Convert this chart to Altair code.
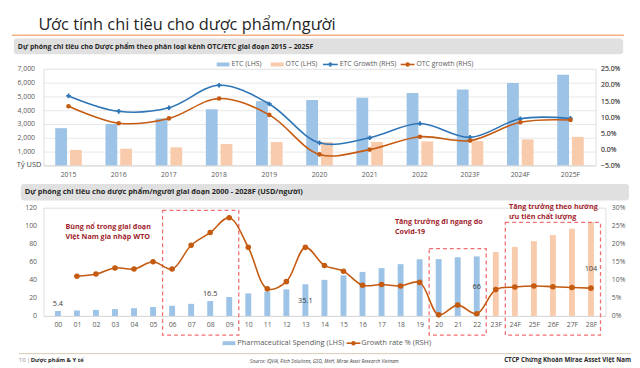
import json
import altair as alt
import pandas as pd

FONT = "Open Sans"

# ---------------- top chart data ----------------
years = ["2015", "2016", "2017", "2018", "2019", "2020", "2021", "2022", "2023F", "2024F", "2025F"]
etc_spend = [2700, 3000, 3400, 4070, 4660, 4740, 4900, 5260, 5500, 5980, 6570]
otc_spend = [1120, 1210, 1310, 1550, 1690, 1690, 1700, 1740, 1760, 1880, 2070]
etc_growth = [16.6, 11.8, 12.9, 19.9, 14.1, 2.0, 3.6, 8.0, 3.7, 9.5, 9.6]
otc_growth = [13.4, 8.1, 9.6, 15.8, 10.7, -1.6, -0.1, 3.9, 2.7, 8.4, 9.1]
top_series = ["ETC (LHS)", "OTC (LHS)", "ETC Growth (RHS)", "OTC growth (RHS)"]
top_colors = ["#9dc3e6", "#f8cbad", "#2e75b6", "#c55a11"]

# ---------------- bottom chart data ----------------
periods = ["00", "01", "02", "03", "04", "05", "06", "07", "08", "09", "10", "11", "12", "13", "14",
           "15", "16", "17", "18", "19", "20", "21", "22", "23F", "24F", "25F", "26F", "27F", "28F"]
spending = [5.4, 6.0, 6.7, 7.6, 8.6, 9.9, 11.2, 13.4, 16.5, 21.0, 25.0, 26.9, 29.5, 35.1, 40.0,
            45.0, 48.8, 53.0, 57.4, 62.8, 63.0, 65.0, 66.0, 70.8, 76.5, 82.9, 89.6, 96.7, 104.0]
growth = [None, 11.0, 11.6, 13.3, 13.0, 15.0, 13.0, 19.6, 23.1, 27.2, 19.0, 7.5, 9.5, 19.0, 14.0,
          12.4, 8.5, 8.7, 8.3, 9.3, 0.3, 3.0, 0.6, 7.3, 8.0, 8.3, 8.1, 7.9, 7.7]
n_forecast = 6
bottom_series = ["Pharmaceutical Spending (LHS)", "Growth rate % (RSH)"]
bottom_colors = ["#9dc3e6", "#f8cbad", "#c55a11"]

# value labels shown on the bottom chart (bar index, label height on LHS scale)
label_idx = [0, 8, 13, 22, 28]
label_y = [13.1, 24.0, 16.7, 32.4, 51.6]

# dashed highlight boxes (index range, top on LHS scale)
box_from = [5.5, 19.5, 23.5]
box_to = [9.5, 22.5, 28.5]
box_top = [117.1, 74.5, 103.6]
box_bottom = -21.3

note_text = ["Bùng nổ trong giai đoạn", "Việt Nam gia nhập WTO",
             "Tăng trưởng đi ngang do", "Covid-19",
             "Tăng trưởng theo hướng", "ưu tiên chất lượng"]
note_x = [0.4, 0.4, 17.7, 17.7, 23.7, 23.7]
note_y = [99.0, 88.0, 104.4, 93.5, 120.8, 109.9]

slide_title = "Ước tính chi tiêu cho dược phẩm/người"
top_header = "Dự phóng chi tiêu cho Dược phẩm theo phân loại kênh OTC/ETC giai đoạn 2015 – 2025F"
bottom_header = "Dự phóng chi tiêu cho dược phẩm/người giai đoạn 2000 - 2028F (USD/người)"
unit_label = "Tỷ USD"
footer_page = "10 |"
footer_section = "Dược phẩm & Y tế"
footer_source = "Source: IQVIA, Fitch Solutions, GSO, MoH, Mirae Asset Research Vietnam"
footer_company = "CTCP Chứng Khoán Mirae Asset Việt Nam"

LABEL = "#595959"
ONE = pd.DataFrame({"k": [0]})


# ---------------- decoration helpers ----------------
def txt(s, x, y, size, color="#262626", weight="normal", align="left", baseline="middle", style="normal"):
    return alt.Chart(pd.DataFrame({"t": [s]})).mark_text(
        align=align, baseline=baseline, fontSize=size, fontWeight=weight, fontStyle=style, color=color
    ).encode(text="t:N", x=alt.value(x), y=alt.value(y))


def hline(x1, x2, y, color, width=1.0):
    return alt.Chart(ONE).mark_rule(color=color, strokeWidth=width).encode(
        x=alt.value(x1), x2=alt.value(x2), y=alt.value(y))


def box(x1, x2, y1, y2, color, radius=0):
    return alt.Chart(ONE).mark_rect(color=color, cornerRadius=radius).encode(
        x=alt.value(x1), x2=alt.value(x2), y=alt.value(y1), y2=alt.value(y2))


def dot(x, y, color, shape="circle", size=20):
    return alt.Chart(ONE).mark_point(filled=True, opacity=1, shape=shape, size=size, color=color).encode(
        x=alt.value(x), y=alt.value(y))


# ---------------- top chart ----------------
bar_df = pd.DataFrame({
    "year": years * 2,
    "series": [top_series[0]] * len(years) + [top_series[1]] * len(years),
    "value": etc_spend + otc_spend,
})
gr_df = pd.DataFrame({
    "year": years * 2,
    "series": [top_series[2]] * len(years) + [top_series[3]] * len(years),
    "g": etc_growth + otc_growth,
})

x_top_scale = alt.Scale(domain=years, paddingInner=0.412, paddingOuter=0.206)
x_top_axis = alt.Axis(title=None, labelAngle=0, labelFontSize=7, labelColor=LABEL, ticks=False,
                      domainColor="#d9d9d9", labelPadding=5, grid=False)
color_top = alt.Scale(domain=top_series, range=top_colors)

top_bars = alt.Chart(bar_df).mark_bar().encode(
    x=alt.X("year:N", scale=x_top_scale, axis=x_top_axis),
    xOffset=alt.XOffset("series:N", scale=alt.Scale(domain=top_series[:2], paddingInner=0.2, paddingOuter=0.1)),
    y=alt.Y("value:Q", scale=alt.Scale(domain=[0, 7000], nice=False),
            axis=alt.Axis(orient="left", title=None, values=list(range(0, 7001, 1000)),
                          labelExpr="datum.value == 0 ? '' : format(datum.value, ',')",
                          grid=True, gridColor="#e8e8e8", domain=False, ticks=False,
                          labelFontSize=7, labelColor=LABEL, labelPadding=9)),
    color=alt.Color("series:N", scale=color_top, legend=None),
)

right_top_axis = alt.Axis(orient="right", title=None, values=list(range(-5, 26, 5)),
                          labelExpr="format(datum.value, '.1f') + '%'", grid=False, domain=False,
                          ticks=False, labelFontSize=7, labelColor=LABEL, labelPadding=5)


def growth_layers(name, shape, size, axis):
    base = alt.Chart(gr_df[gr_df.series == name]).encode(
        x=alt.X("year:N", scale=x_top_scale, axis=x_top_axis),
        y=alt.Y("g:Q", scale=alt.Scale(domain=[-5, 25], nice=False), axis=axis),
        color=alt.Color("series:N", scale=color_top, legend=None),
    )
    return [base.mark_line(interpolate="catmull-rom", strokeWidth=1.6),
            base.mark_point(filled=True, opacity=1, shape=shape, size=size)]


top_decor = [
    txt(slide_title, -5, -40, 16.6, color="#1f1f1f", baseline="alphabetic"),
    hline(-32, 590, -34.3, "#f4b183", 1.5),
    box(-30, 589, -31, -15, "#e0e0e0", 3),
    txt(top_header, -26, -22.5, 7, weight="bold"),
    box(176, 189, -6.5, -2.5, top_colors[0]),
    txt(top_series[0], 191, -4.5, 7, color=LABEL),
    box(231, 244, -6.5, -2.5, top_colors[1]),
    txt(top_series[1], 246, -4.5, 7, color=LABEL),
    hline(284, 299, -4.5, top_colors[2], 1.6),
    dot(291.5, -4.5, top_colors[2], "cross", 20),
    txt(top_series[2], 301, -4.5, 7, color=LABEL),
    hline(363, 377, -4.5, top_colors[3], 1.6),
    dot(370, -4.5, top_colors[3], "circle", 20),
    txt(top_series[3], 379, -4.5, 7, color=LABEL),
    txt(unit_label, -27, 98, 7.5, color="#404040"),
]

top = alt.layer(
    top_bars,
    *growth_layers(top_series[2], "cross", 22, right_top_axis),
    *growth_layers(top_series[3], "circle", 22, None),
    *top_decor,
).resolve_scale(y="independent").properties(width=561, height=98)

# ---------------- bottom chart ----------------
idx = list(range(len(periods)))
kind = ["Actual"] * (len(periods) - n_forecast) + ["Forecast"] * n_forecast
b_df = pd.DataFrame({"i": idx, "spend": spending, "kind": kind})
g_df = pd.DataFrame({"i": idx[1:], "growth": growth[1:]})
lab_df = pd.DataFrame({"i": label_idx, "ly": label_y, "t": [f"{spending[i]:g}" for i in label_idx]})
box_df = pd.DataFrame({"x0": box_from, "x1": box_to, "y0": box_top, "y1": [box_bottom] * len(box_top)})
note_df = pd.DataFrame({"x": note_x, "y": note_y, "t": note_text})

x_bot_scale = alt.Scale(domain=[-0.5, len(periods) - 0.5], nice=False, zero=False)
x_bot_axis = alt.Axis(title=None, values=idx, labelExpr=json.dumps(periods) + "[datum.value]",
                      labelAngle=0, labelFontSize=7, labelColor=LABEL, ticks=False,
                      domainColor="#d9d9d9", labelPadding=5, grid=False, labelOverlap=False,
                      labelFlush=False)
lhs = alt.Scale(domain=[0, 120], nice=False)
rhs = alt.Scale(domain=[0, 30], nice=False)

bot_bars = alt.Chart(b_df).mark_bar(size=6).encode(
    x=alt.X("i:Q", scale=x_bot_scale, axis=x_bot_axis),
    y=alt.Y("spend:Q", scale=lhs,
            axis=alt.Axis(orient="left", title=None, values=list(range(0, 121, 20)), grid=False,
                          domain=False, ticks=False, labelFontSize=7, labelColor=LABEL, labelPadding=7)),
    color=alt.Color("kind:N", scale=alt.Scale(domain=["Actual", "Forecast"], range=bottom_colors[:2]), legend=None),
)
bot_boxes = alt.Chart(box_df).mark_rect(fillOpacity=0, stroke="#f06f73", strokeDash=[4, 3], strokeWidth=1.3).encode(
    x=alt.X("x0:Q", scale=x_bot_scale, axis=x_bot_axis), x2="x1:Q",
    y=alt.Y("y0:Q", scale=lhs, axis=None), y2="y1:Q",
)
bot_labels = alt.Chart(lab_df).mark_text(fontSize=7.5, color="#404040").encode(
    x=alt.X("i:Q", scale=x_bot_scale, axis=x_bot_axis),
    y=alt.Y("ly:Q", scale=lhs, axis=None), text="t:N",
)
bot_notes = alt.Chart(note_df).mark_text(align="left", fontSize=7.3, fontWeight="bold", color="#a11d2d").encode(
    x=alt.X("x:Q", scale=x_bot_scale, axis=x_bot_axis),
    y=alt.Y("y:Q", scale=lhs, axis=None), text="t:N",
)
g_base = alt.Chart(g_df).encode(x=alt.X("i:Q", scale=x_bot_scale, axis=x_bot_axis))
bot_line = g_base.mark_line(interpolate="catmull-rom", strokeWidth=1.6, color=bottom_colors[2]).encode(
    y=alt.Y("growth:Q", scale=rhs,
            axis=alt.Axis(orient="right", title=None, values=list(range(0, 31, 5)),
                          labelExpr="datum.value + '%'", grid=False, domain=False, ticks=False,
                          labelFontSize=7, labelColor=LABEL, labelPadding=6)))
bot_pts = g_base.mark_point(filled=True, opacity=1, size=32, color=bottom_colors[2]).encode(
    y=alt.Y("growth:Q", scale=rhs, axis=None))

bot_decor = [
    box(-23, 595, -24, -7.3, "#e0e0e0", 3),
    txt(bottom_header, -19, -15.5, 7.5, weight="bold"),
    box(182, 195, 135.7, 139.7, bottom_colors[0]),
    txt(bottom_series[0], 197, 137.7, 7.5, color=LABEL),
    hline(308, 322, 137.7, bottom_colors[2], 1.6),
    dot(315, 137.7, bottom_colors[2], "circle", 20),
    txt(bottom_series[1], 323, 137.7, 7.5, color=LABEL),
    hline(-25, 597, 148.3, "#d8c9b2", 1),
    txt(footer_page, -25, 155, 6, color="#7f7f7f"),
    txt(footer_section, -13, 155, 6, weight="bold"),
    txt(footer_source, 210, 156.5, 4.8, color="#404040", style="italic"),
    txt(footer_company, 597, 155, 6.3, weight="bold", align="right"),
]

bottom = alt.layer(
    bot_bars, bot_boxes, bot_labels, bot_notes, bot_line, bot_pts, *bot_decor
).resolve_scale(y="independent").properties(width=571, height=110)

chart = alt.vconcat(top, bottom, spacing=5).properties(
    padding={"left": 2, "top": 5, "right": 0, "bottom": 0},
    background="white",
).configure_view(stroke=None).configure(font=FONT)

chart.save("out.html", embed_options={"renderer": "svg", "actions": False})
